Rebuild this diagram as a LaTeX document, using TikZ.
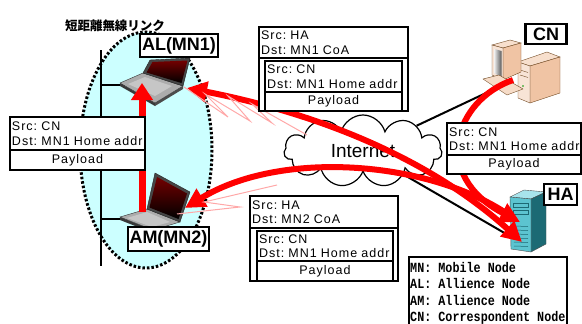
\documentclass[tikz,border=0pt]{standalone}
\usepackage{fontspec}
\setmainfont{Liberation Sans}
\newfontfamily\pktfam{Liberation Sans}[LetterSpace=8]
\newfontfamily\legfont{Liberation Mono}[FakeStretch=0.84]
\newfontfamily\jpfont{Noto Sans CJK JP}
\usetikzlibrary{positioning,shapes.symbols,arrows.meta}

\definecolor{linkcyan}{HTML}{CCFFFF}
\definecolor{wavepink}{HTML}{FFA8A8}
\definecolor{casebeige}{HTML}{F0C4A4}
\definecolor{srvfront}{HTML}{5CC4D0}
\definecolor{srvside}{HTML}{1C6A74}
\definecolor{srvtop}{HTML}{A8E4EC}

\newcommand{\pktfont}{\pktfam\fontsize{12.5}{14.5}\selectfont}
\frenchspacing

\tikzset{
  redarrow/.style={red, line width=6pt, -{Triangle[length=20pt,width=20pt]}},
  redboth/.style={red, line width=6pt, {Triangle[length=20pt,width=20pt]}-{Triangle[length=20pt,width=20pt]}},
  wave/.style={wavepink, line width=1pt},
  netline/.style={black, line width=2pt},
  pkthead/.style={draw, fill=white, line width=1.3pt, outer sep=0pt, inner xsep=2pt, inner ysep=1pt, align=left, font=\pktfont},
  pktload/.style={draw, fill=white, line width=1.3pt, outer sep=0pt, inner xsep=2pt, inner ysep=1pt, align=center, font=\pktfont},
  pktouter/.style={draw, fill=white, line width=1.3pt, outer sep=0pt, inner sep=0pt},
  devlabel/.style={draw, fill=white, line width=2.5pt, inner sep=1pt, font=\bfseries\fontsize{18}{18}\selectfont},
}

\begin{document}
\begin{tikzpicture}[x=1pt,y=-1pt]
\useasboundingbox (0,0) rectangle (582,324);

% short range link
\draw[fill=linkcyan, line width=3pt, dash pattern=on 2.5pt off 2pt] (146,150) ellipse [x radius=66, y radius=118];
\node[font=\jpfont\bfseries\fontsize{12.5}{12.5}\selectfont] (linktitle) at (115,26) {短距離無線リンク};
\draw[line width=2pt] (101,50) -- (101,266);
\draw[line width=2pt] (101,85) -- (125,85);
\draw[line width=2pt] (101,219) -- (125,219);

% AL laptop
\fill[gray!45!black] (120,83) -- (155,103) -- (155,106) -- (120,86) -- cycle;
\fill[gray!60!black] (155,103) -- (183,86) -- (183,89) -- (155,106) -- cycle;
\filldraw[fill=gray!65, draw=gray!40!black, line width=0.4pt] (120,83) -- (143,73) -- (183,86) -- (155,103) -- cycle;
\fill[gray!45] (128,84) -- (145,77) -- (172,86) -- (155,96) -- cycle;
\filldraw[fill=gray!55!black, draw=gray!30!black, line width=0.4pt] (150,60) -- (190,58) -- (183,86) -- (143,73) -- cycle;
\shade[top color=red!45!black, bottom color=black] (152.5,62) -- (187.5,60.5) -- (181.5,83) -- (146.5,72.5) -- cycle;

% AM laptop
\fill[gray!45!black] (120,217) -- (153,230) -- (153,233) -- (120,220) -- cycle;
\filldraw[fill=gray!65, draw=gray!40!black, line width=0.4pt] (120,217) -- (147,209) -- (180,222) -- (153,230) -- cycle;
\fill[gray!45] (127,218) -- (147,212) -- (170,222) -- (152,227) -- cycle;
\filldraw[fill=gray!55!black, draw=gray!30!black, line width=0.4pt] (155,173) -- (190,192) -- (180,222) -- (147,209) -- cycle;
\shade[top color=red!45!black, bottom color=black] (157,177) -- (187,193.5) -- (178.5,219) -- (149.5,207.5) -- cycle;

% internet
\node[cloud, draw, fill=white, line width=1.2pt, cloud puffs=11, aspect=2.2, minimum width=158pt, minimum height=72pt, font=\fontsize{19}{19}\selectfont] (net) at (363,151) {Internet};
\coordinate (cnkb) at (503,85);
\coordinate (hain) at (520,242);
\draw[netline] (net) -- (cnkb);
\draw[netline] (net) -- (hain);

% CN computer
\filldraw[fill=casebeige!55!white, draw=brown!60!black, line width=0.4pt] (518,62) -- (547,52) -- (560,57) -- (530,66) -- cycle;
\filldraw[fill=casebeige, draw=brown!60!black, line width=0.4pt] (530,66) -- (560,57) -- (560,93) -- (530,103) -- cycle;
\filldraw[fill=casebeige!45!white, draw=brown!60!black, line width=0.4pt] (518,62) -- (530,66) -- (530,103) -- (518,98) -- cycle;
\draw[brown!60!black, line width=0.4pt] (520,70) -- (528,72.5) (520,75) -- (528,77.5);
\fill[green!60!black] (523,86) circle (0.8);
\filldraw[fill=casebeige!55!white, draw=brown!60!black, line width=0.4pt] (492,45) -- (510,40) -- (521,43) -- (503,48) -- cycle;
\filldraw[fill=casebeige, draw=brown!60!black, line width=0.4pt] (503,48) -- (521,43) -- (521,72) -- (503,80) -- cycle;
\filldraw[fill=casebeige!45!white, draw=brown!60!black, line width=0.4pt] (492,45) -- (503,48) -- (503,80) -- (492,75) -- cycle;
\shade[left color=gray!20, right color=gray!70!black] (494.5,49) -- (501.5,51) -- (501.5,77) -- (494.5,73.5) -- cycle;
\filldraw[fill=casebeige!60!white, draw=brown!60!black, line width=0.4pt] (483,79) -- (499,75) -- (523,89) -- (507,95) -- cycle;

% HA server
\filldraw[fill=srvtop, draw=black!70, line width=0.4pt] (510,197) -- (524,190) -- (546,192) -- (531,199) -- cycle;
\filldraw[fill=srvside, draw=black!70, line width=0.4pt] (531,199) -- (546,192) -- (546,244) -- (531,252) -- cycle;
\filldraw[fill=srvfront, draw=black!70, line width=0.4pt] (510,197) -- (531,199) -- (531,252) -- (511,249) -- cycle;
\draw[srvside, line width=0.6pt] (513,203) rectangle (528,207) (513,210) rectangle (528,214);
\foreach \y in {226,230,...,246}
  \draw[srvside, line width=0.5pt] (514,\y) -- (528,\y+0.5);

% red traffic
\coordinate (cnout) at (513,80);
\coordinate (hain1) at (520,222);
\coordinate (haout) at (506,213);
\coordinate (hain2) at (522,242);
\coordinate (alin) at (187,88);
\coordinate (amin) at (185,208);
\coordinate (altip) at (142,83);
\coordinate (amtop) at (142,212);
\draw[redarrow] (cnout) .. controls (455,100) and (430,175) .. (hain1);
\draw[redarrow] (haout) .. controls (425,160) and (280,150) .. (amin);
\draw[redboth] (hain2) .. controls (420,150) and (300,110) .. (alin);
\draw[wave] (184,87) -- (228,117) -- (205,94) -- (250,121) -- (228,96) -- (272,123) -- (252,104) -- (307,135);
\draw[wave] (177,214) -- (240,207) -- (204,202) -- (277,185);
\draw[red, line width=7pt, -{Triangle[length=17pt,width=21pt]}] (amtop) -- (altip);

% packets
\node[pkthead, text width=131pt, minimum height=33pt, anchor=north west] (lpkthd) at (10,117) {Src: CN\\Dst: MN1 Home addr};
\node[pktload, text width=131pt, minimum height=20pt, below=0pt of lpkthd] (lpktpl) {Payload};

\node[pktouter, minimum width=149pt, minimum height=84pt, anchor=north west] (tpkt) at (259,27) {};
\node[pkthead, text width=145pt, minimum height=31pt, anchor=north west] (tpkthd) at (tpkt.north west) {Src: HA\\Dst: MN1 CoA};
\node[pkthead, text width=133pt, minimum height=31pt, anchor=north west] (tpktin) at (265,61) {Src: CN\\Dst: MN1 Home addr};
\node[pktload, text width=133pt, minimum height=19pt, below=0pt of tpktin] (tpktpl) {Payload};

\node[pkthead, text width=130pt, minimum height=32pt, anchor=north west] (rpkthd) at (447,123) {Src: CN\\Dst: MN1 Home addr};
\node[pktload, text width=130pt, minimum height=19pt, below=0pt of rpkthd] (rpktpl) {Payload};

\node[pktouter, minimum width=148pt, minimum height=85pt, anchor=north west] (bpkt) at (250,196) {};
\node[pkthead, text width=144pt, minimum height=32pt, anchor=north west] (bpkthd) at (bpkt.north west) {Src: HA\\Dst: MN2 CoA};
\node[pkthead, text width=132pt, minimum height=30pt, anchor=north west] (bpktin) at (257,231) {Src: CN\\Dst: MN1 Home addr};
\node[pktload, text width=132pt, minimum height=20pt, below=0pt of bpktin] (bpktpl) {Payload};

% device labels
\node[devlabel, minimum width=78pt, minimum height=23pt] (allabel) at (179,45.5) {AL(MN1)};
\node[devlabel, minimum width=81pt, minimum height=24pt] (amlabel) at (168.5,239) {AM(MN2)};
\node[devlabel, minimum width=41pt, minimum height=20pt] (cnlabel) at (546,34) {CN};
\node[devlabel, minimum width=33pt, minimum height=21pt] (halabel) at (560.5,194.5) {HA};

% legend
\node[draw, line width=2pt, fill=white, minimum width=158pt, minimum height=80pt, anchor=north west] (legend) at (408,256) {};
\foreach \i/\t in {0/{MN: Mobile Node},1/{AL: Allience Node},2/{AM: Allience Node},3/{CN: Correspondent Node}}
  \node[font=\legfont\bfseries\fontsize{14}{14}\selectfont, inner sep=0pt, anchor=base west] (leg\i) at (410,272+16.5*\i) {\t};
\end{tikzpicture}
\end{document}
